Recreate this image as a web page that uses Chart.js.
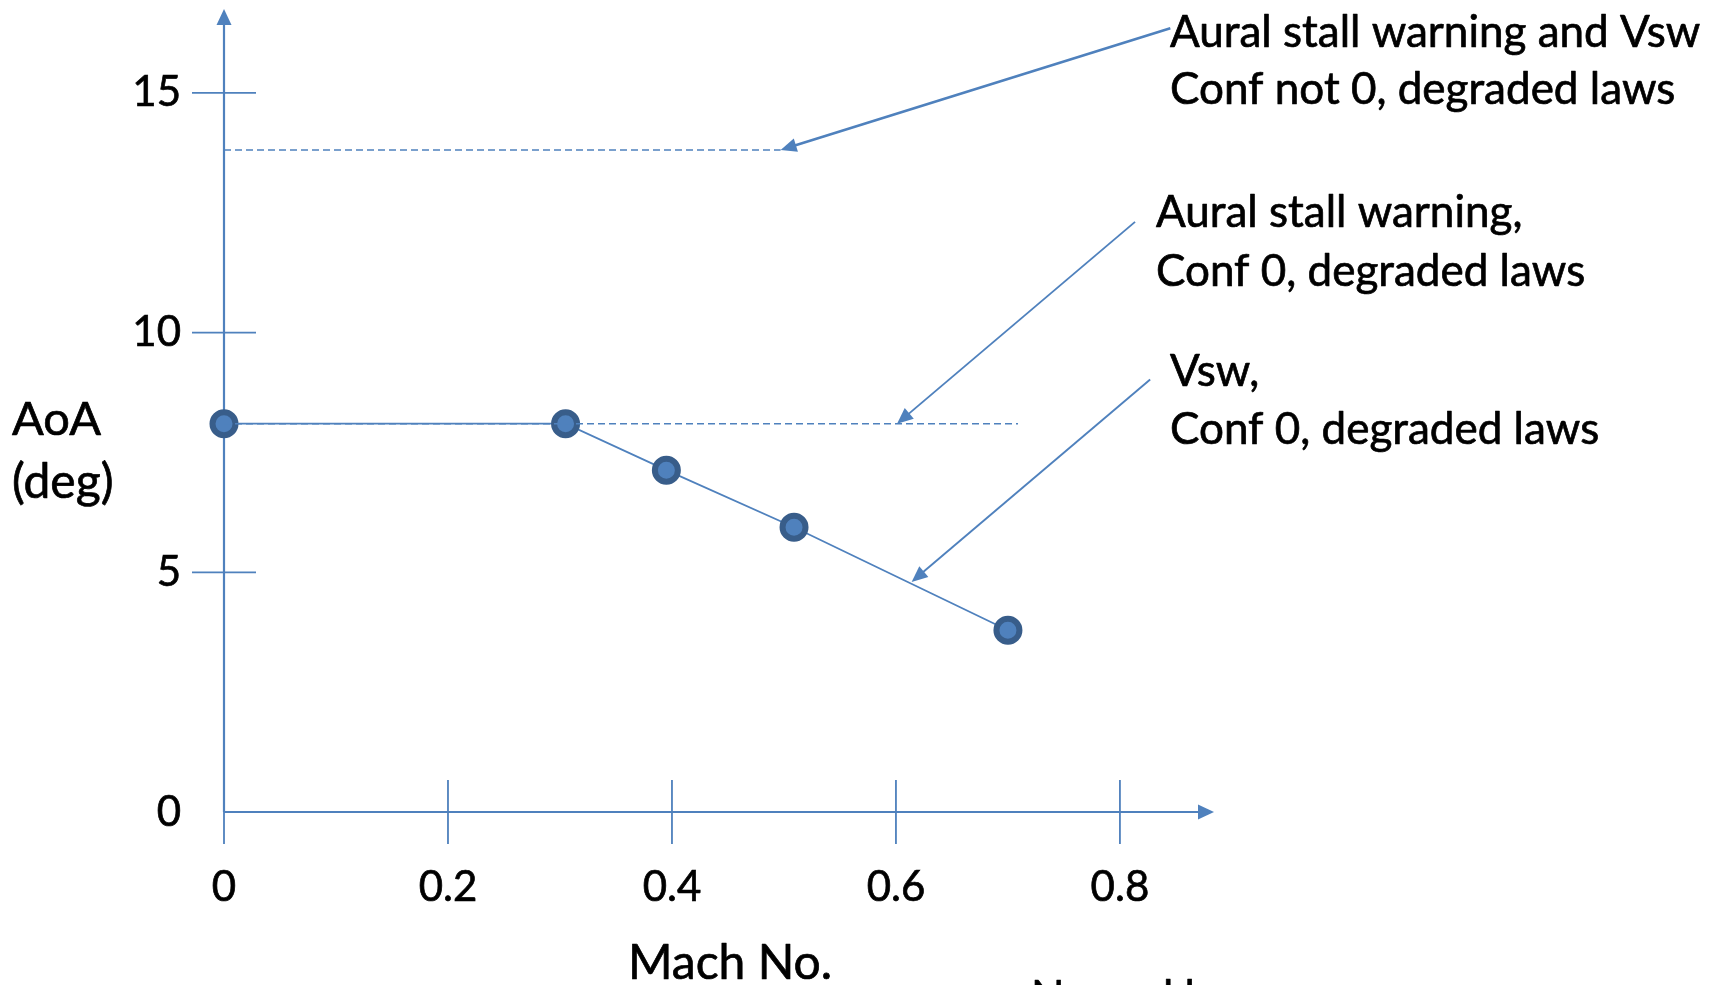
<!DOCTYPE html>
<html>
<head>
<meta charset="utf-8">
<title>AoA vs Mach No.</title>
<script src="https://cdn.jsdelivr.net/npm/chart.js@4.4.1/dist/chart.umd.min.js"></script>
<style>
  html, body { margin: 0; padding: 0; background: #fff; }
  #chart { display: block; }
</style>
</head>
<body>
<canvas id="chart" width="1718" height="985"></canvas>
<script>
// Vsw curve, Conf 0, degraded laws
const machNo = [0, 0.305, 0.395, 0.509, 0.7];
const aoaDeg = [8.1, 8.1, 7.13, 5.94, 3.79];

// aural stall warning thresholds (dashed lines)
const warnConfNot0 = 13.81;
const warnConfNot0To = 0.497;
const warnConf0 = 8.1;
const warnConf0To = 0.709;

const xTicks = [0, 0.2, 0.4, 0.6, 0.8];
const yTicks = [0, 5, 10, 15];
const xMax = 0.884;
const yMax = 16.75;

const calloutText = [
  ['Aural stall warning and Vsw', 'Conf not 0, degraded laws'],
  ['Aural stall warning,', 'Conf 0, degraded laws'],
  ['Vsw,', 'Conf 0, degraded laws']
];

const blue = '#4F81BD';
const darkBlue = '#385D8A';
const font = 'Lato, "Open Sans", sans-serif';

function arrowHead(ctx, x0, y0, x1, y1, len, half) {
  const a = Math.atan2(y1 - y0, x1 - x0);
  const bx = x1 - len * Math.cos(a), by = y1 - len * Math.sin(a);
  ctx.beginPath();
  ctx.moveTo(x1, y1);
  ctx.lineTo(bx + half * Math.sin(a), by - half * Math.cos(a));
  ctx.lineTo(bx - half * Math.sin(a), by + half * Math.cos(a));
  ctx.closePath();
  ctx.fill();
}

function arrow(ctx, x0, y0, x1, y1, width) {
  const a = Math.atan2(y1 - y0, x1 - x0);
  ctx.lineWidth = width;
  ctx.beginPath();
  ctx.moveTo(x0, y0);
  ctx.lineTo(x1 - 14 * Math.cos(a), y1 - 14 * Math.sin(a));
  ctx.stroke();
  arrowHead(ctx, x0, y0, x1, y1, 16, 7);
}

// text with a hairline outline so it reads a bit heavier
function label(ctx, text, x, y) {
  ctx.fillText(text, x, y);
  ctx.strokeText(text, x, y);
}

// axes with arrows and cross ticks
const axesPlugin = {
  id: 'axes',
  beforeDatasetsDraw(chart) {
    const { ctx, chartArea, scales: { x, y } } = chart;
    const x0 = x.getPixelForValue(0);
    const y0 = y.getPixelForValue(0);
    ctx.save();
    ctx.strokeStyle = blue;
    ctx.fillStyle = blue;
    ctx.lineWidth = 2.2;
    ctx.beginPath();
    ctx.moveTo(x0, y0);
    ctx.lineTo(x0, chartArea.top + 14);
    ctx.moveTo(x0, y0);
    ctx.lineTo(chartArea.right - 14, y0);
    ctx.stroke();
    arrowHead(ctx, x0, y0, x0, chartArea.top, 16, 7.5);
    arrowHead(ctx, x0, y0, chartArea.right, y0, 16, 7.5);

    ctx.lineWidth = 1.8;
    ctx.beginPath();
    yTicks.forEach(v => {
      if (v === 0) return;
      const p = y.getPixelForValue(v);
      ctx.moveTo(x0 - 32, p);
      ctx.lineTo(x0 + 32, p);
    });
    xTicks.forEach(v => {
      const p = x.getPixelForValue(v);
      ctx.moveTo(p, y0 + 32);
      ctx.lineTo(p, v === 0 ? y0 : y0 - 32);
    });
    ctx.stroke();
    ctx.restore();
  }
};

// axis titles and callouts
const notesPlugin = {
  id: 'notes',
  afterDraw(chart) {
    const { ctx, scales: { x, y } } = chart;
    ctx.save();
    ctx.fillStyle = '#000';
    ctx.strokeStyle = '#000';
    ctx.lineWidth = 0.7;
    ctx.lineJoin = 'round';
    ctx.textAlign = 'left';
    ctx.textBaseline = 'alphabetic';

    ctx.font = '47px ' + font;
    label(ctx, 'AoA', 12, 435);
    ctx.font = '48px ' + font;
    label(ctx, '(deg)', 12, 498);
    label(ctx, 'Mach No.', 628, 979);
    ctx.font = '44px ' + font;
    label(ctx, 'Normal law', 1031, 1012);

    const textPos = [[1170, 47, 104], [1156, 227, 286], [1170, 386, 444]];
    calloutText.forEach((lines, i) => {
      const [tx, b1, b2] = textPos[i];
      label(ctx, lines[0], tx, b1);
      label(ctx, lines[1], tx, b2);
    });

    ctx.strokeStyle = blue;
    ctx.fillStyle = blue;
    arrow(ctx, x.getPixelForValue(0.845), y.getPixelForValue(16.35),
      x.getPixelForValue(warnConfNot0To), y.getPixelForValue(warnConfNot0), 2.6);
    arrow(ctx, x.getPixelForValue(0.8135), y.getPixelForValue(12.31),
      x.getPixelForValue(0.601), y.getPixelForValue(warnConf0), 1.9);
    arrow(ctx, x.getPixelForValue(0.827), y.getPixelForValue(9.02),
      x.getPixelForValue(0.614), y.getPixelForValue(4.8), 1.9);
    ctx.restore();
  }
};

const ctx = document.getElementById('chart').getContext('2d');
new Chart(ctx, {
  type: 'scatter',
  data: {
    datasets: [
      {
        label: 'Vsw',
        data: machNo.map((m, i) => ({ x: m, y: aoaDeg[i] })),
        showLine: true,
        borderColor: blue,
        borderWidth: 1.8,
        pointRadius: 11.5,
        pointBorderWidth: 6,
        pointBackgroundColor: blue,
        pointBorderColor: darkBlue,
        clip: false,
        order: 1
      },
      {
        label: 'Conf not 0',
        data: [{ x: 0, y: warnConfNot0 }, { x: warnConfNot0To, y: warnConfNot0 }],
        showLine: true,
        borderColor: blue,
        borderWidth: 1.6,
        borderDash: [7, 4],
        pointRadius: 0,
        clip: false,
        order: 0
      },
      {
        label: 'Conf 0',
        data: [{ x: 0, y: warnConf0 }, { x: warnConf0To, y: warnConf0 }],
        showLine: true,
        borderColor: blue,
        borderWidth: 1.6,
        borderDash: [7, 4],
        pointRadius: 0,
        clip: false,
        order: 0
      }
    ]
  },
  options: {
    responsive: false,
    animation: false,
    devicePixelRatio: 1,
    layout: { autoPadding: false, padding: { top: 9, right: 504, bottom: 0, left: 0 } },
    plugins: { legend: { display: false }, tooltip: { enabled: false } },
    scales: {
      x: {
        type: 'linear',
        min: 0,
        max: xMax,
        grid: { display: false },
        border: { display: false },
        afterBuildTicks: s => { s.ticks = xTicks.map(v => ({ value: v })); },
        afterFit: s => {
          s.height = 173;
          s.paddingLeft = 0;
          s.paddingRight = 0;
        },
        ticks: {
          color: '#000',
          textStrokeColor: '#000',
          textStrokeWidth: 0.7,
          font: { family: font, size: 42 },
          padding: 42,
          maxRotation: 0,
          autoSkip: false,
          callback: v => String(v)
        }
      },
      y: {
        type: 'linear',
        min: 0,
        max: yMax,
        grid: { display: false },
        border: { display: false },
        afterBuildTicks: s => { s.ticks = yTicks.map(v => ({ value: v })); },
        afterFit: s => {
          s.width = 224;
          s.paddingTop = 0;
          s.paddingBottom = 0;
        },
        ticks: {
          color: '#000',
          textStrokeColor: '#000',
          textStrokeWidth: 0.7,
          font: { family: font, size: 42 },
          padding: 35,
          autoSkip: false,
          callback: v => String(v)
        }
      }
    }
  },
  plugins: [axesPlugin, notesPlugin]
});
</script>
</body>
</html>
